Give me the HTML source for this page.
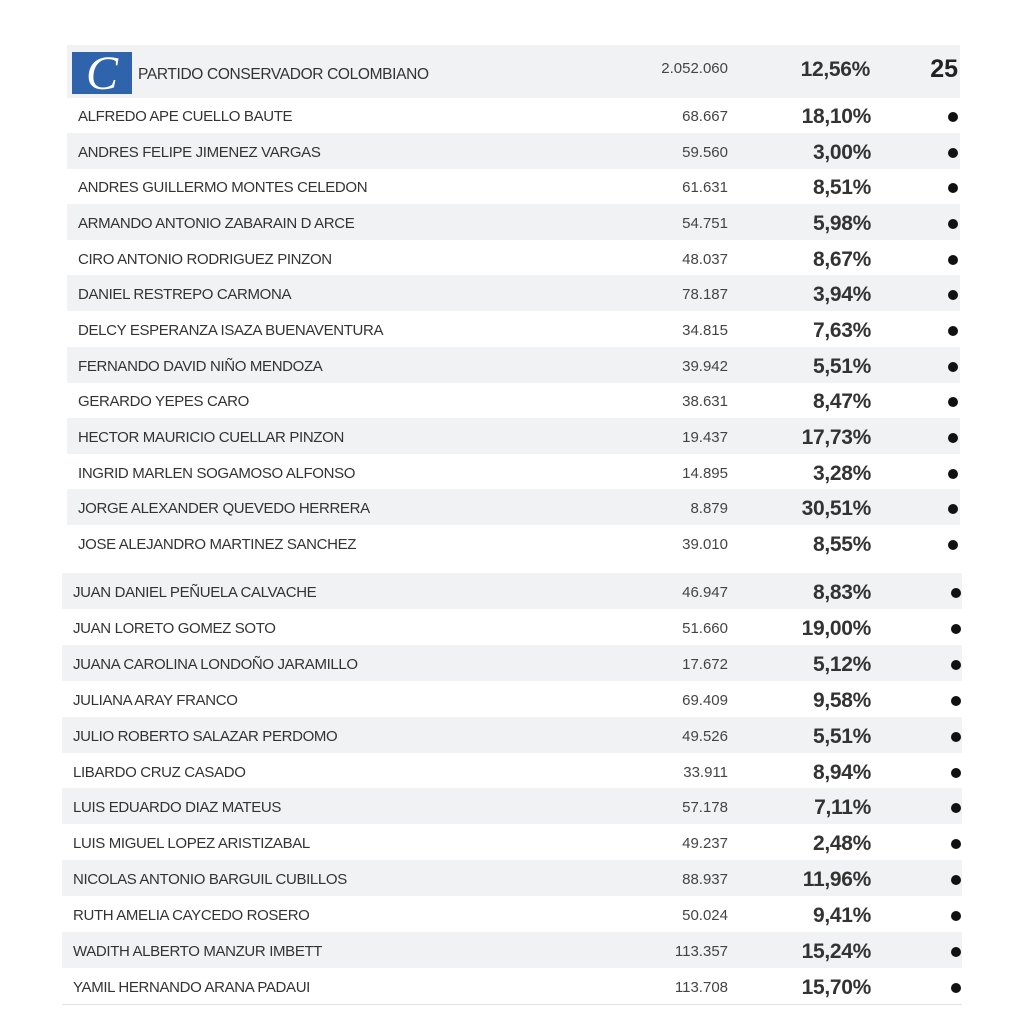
<!DOCTYPE html>
<html><head><meta charset="utf-8">
<style>
body{margin:0;width:1024px;height:1024px;background:#fff;position:relative;overflow:hidden;font-family:"Liberation Sans",sans-serif;color:#333}
.row{position:absolute;height:36px}
.row.g{background:#f1f2f4}
.nm{position:absolute;top:2px;line-height:36px;font-size:15px;letter-spacing:-0.35px;color:#333;white-space:nowrap}
.vt{position:absolute;top:2px;line-height:36px;font-size:15px;letter-spacing:0px;color:#444;text-align:right;width:100px}
.pc{position:absolute;top:2px;line-height:36px;font-size:21px;font-weight:bold;color:#333;text-align:right;width:100px;letter-spacing:-0.3px}
.dot{position:absolute;width:10px;height:10px;border-radius:50%;background:#111;top:15px}
</style></head>
<body>
<div style="position:absolute;left:67px;top:45px;width:893px;height:53px;background:#f1f2f4">
  <div style="position:absolute;left:5px;top:7px;width:60px;height:42px;background:#2f64ad;color:#fff;font-family:'Liberation Serif',serif;font-style:italic;font-size:48px;line-height:44px;text-align:center">C</div>
  <div style="position:absolute;left:71px;top:1px;line-height:58px;font-size:15.5px;letter-spacing:-0.35px;color:#333">PARTIDO CONSERVADOR COLOMBIANO</div>
  <div style="position:absolute;right:232px;top:0;line-height:48px;font-size:15px;color:#444">2.052.060</div>
  <div style="position:absolute;right:90px;top:1px;line-height:48px;font-size:21px;font-weight:bold;letter-spacing:-0.3px">12,56%</div>
  <div style="position:absolute;right:2px;top:0;line-height:48px;font-size:25px;font-weight:bold;color:#222">25</div>
</div>
<div style="position:absolute;left:62px;top:574px;width:900px;height:1px;background:#d4d6d9"></div>
<div style="position:absolute;left:62px;top:1004px;width:900px;height:1px;background:#e2e3e5"></div>
<script>
const names=["ALFREDO APE CUELLO BAUTE","ANDRES FELIPE JIMENEZ VARGAS","ANDRES GUILLERMO MONTES CELEDON","ARMANDO ANTONIO ZABARAIN D ARCE","CIRO ANTONIO RODRIGUEZ PINZON","DANIEL RESTREPO CARMONA","DELCY ESPERANZA ISAZA BUENAVENTURA","FERNANDO DAVID NIÑO MENDOZA","GERARDO YEPES CARO","HECTOR MAURICIO CUELLAR PINZON","INGRID MARLEN SOGAMOSO ALFONSO","JORGE ALEXANDER QUEVEDO HERRERA","JOSE ALEJANDRO MARTINEZ SANCHEZ","JUAN DANIEL PEÑUELA CALVACHE","JUAN LORETO GOMEZ SOTO","JUANA CAROLINA LONDOÑO JARAMILLO","JULIANA ARAY FRANCO","JULIO ROBERTO SALAZAR PERDOMO","LIBARDO CRUZ CASADO","LUIS EDUARDO DIAZ MATEUS","LUIS MIGUEL LOPEZ ARISTIZABAL","NICOLAS ANTONIO BARGUIL CUBILLOS","RUTH AMELIA CAYCEDO ROSERO","WADITH ALBERTO MANZUR IMBETT","YAMIL HERNANDO ARANA PADAUI"];
const votes=["68.667","59.560","61.631","54.751","48.037","78.187","34.815","39.942","38.631","19.437","14.895","8.879","39.010","46.947","51.660","17.672","69.409","49.526","33.911","57.178","49.237","88.937","50.024","113.357","113.708"];
const percents=["18,10%","3,00%","8,51%","5,98%","8,67%","3,94%","7,63%","5,51%","8,47%","17,73%","3,28%","30,51%","8,55%","8,83%","19,00%","5,12%","9,58%","5,51%","8,94%","7,11%","2,48%","11,96%","9,41%","15,24%","15,70%"];
for(let i=0;i<names.length;i++){
  const top=i<13;
  const r=document.createElement('div');
  
  
  let y,left,w,grey;
  if(top){y=97+i*35.67;left=67;w=893;grey=(i%2==1);}
  else{const j=i-13;y=573+j*35.9;left=62;w=900;grey=(j%2==0);}
  r.className='row'+(grey?' g':'');
  r.style.left=left+'px';r.style.top=y+'px';r.style.width=w+'px';
  const n=document.createElement('div');n.className='nm';n.textContent=names[i];n.style.left='11px';
  
  
  const v=document.createElement('div');v.className='vt';v.textContent=votes[i];v.style.left=(728-left-100)+'px';
  
  
  const p=document.createElement('div');p.className='pc';p.textContent=percents[i];p.style.left=(871-left-100)+'px';
  
  
  const d=document.createElement('div');d.className='dot';d.style.left=((top?953:956)-left-5)+'px';
  
  
  r.append(n,v,p,d);document.body.appendChild(r);
}
</script>
</body></html>
